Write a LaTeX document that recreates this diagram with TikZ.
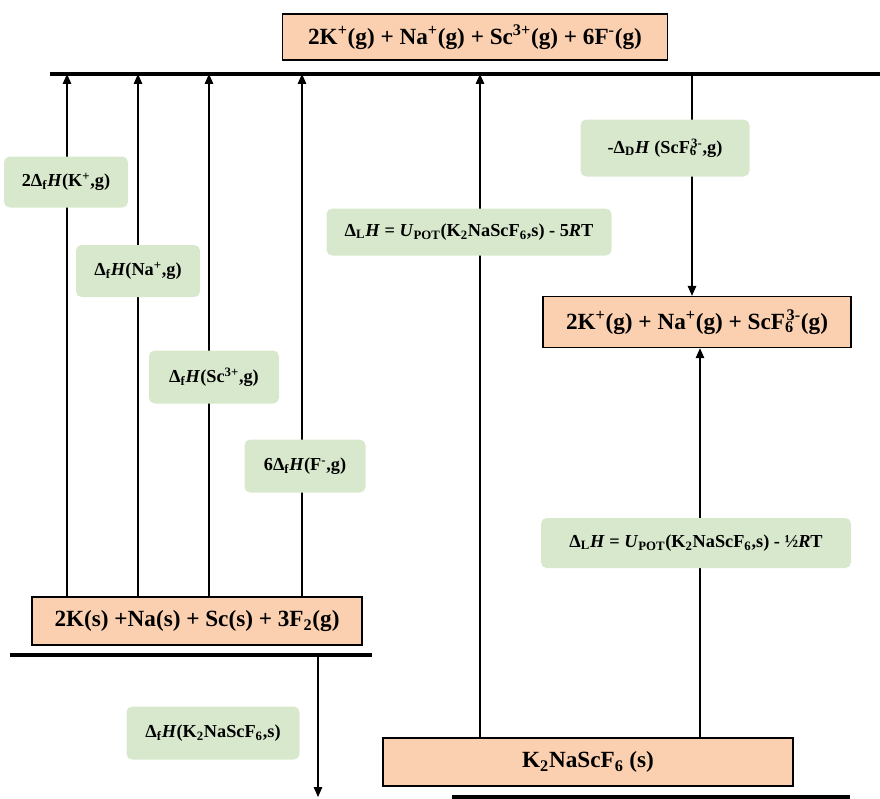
\documentclass[tikz,border=0pt]{standalone}
\usepackage{fontspec}
\setmainfont{Liberation Serif}
\usetikzlibrary{arrows.meta}
\definecolor{boxorange}{RGB}{251,208,176}
\definecolor{labgreen}{RGB}{216,232,204}
\newcommand\pxu{0.025cm}
\newcommand\supsub[2]{\rlap{\textsubscript{#2}}\textsuperscript{\kern0.1em#1}}
\tikzset{
  level/.style={draw=black,line width=1pt,fill=boxorange,inner sep=0pt,font=\fontsize{16.5}{18}\selectfont\bfseries},
  enlabel/.style={fill=labgreen,rounded corners=4pt,inner sep=0pt,font=\fontsize{13}{15}\selectfont\bfseries},
  arr/.style={line width=0.8pt,-{Triangle[width=6pt,length=7pt]}},
  base/.style={line width=2.8pt}
}
\begin{document}
\begin{tikzpicture}[x=0.025cm,y=-0.025cm]
  \useasboundingbox (0,0) rectangle (880,798);
  % energy levels
  \node[level,minimum width=385*\pxu,minimum height=46*\pxu] (gas) at (475,37) {2K\textsuperscript{+}(g) + Na\textsuperscript{+}(g) + Sc\textsuperscript{3+}(g) + 6F\textsuperscript{-}(g)};
  \node[level,minimum width=308*\pxu,minimum height=51*\pxu] (ion) at (697,322) {2K\textsuperscript{+}(g) + Na\textsuperscript{+}(g) + ScF\supsub{3-}{6}(g)};
  \node[level,minimum width=330*\pxu,minimum height=48*\pxu] (elem) at (197,621) {2K(s) +Na(s) + Sc(s) + 3F\textsubscript{2}(g)};
  \node[level,minimum width=410*\pxu,minimum height=48*\pxu] (solid) at (588,762) {K\textsubscript{2}NaScF\textsubscript{6} (s)};
  \coordinate (topL) at (50,74); \coordinate (topR) at (880,74);
  \coordinate (elemL) at (10,655); \coordinate (elemR) at (372,655);
  \coordinate (botL) at (452,797); \coordinate (botR) at (850,797);
  \draw[base] (topL) -- (topR);
  \draw[base] (elemL) -- (elemR);
  \draw[base] (botL) -- (botR);
  % arrows
  \foreach \x in {67,138,209,302} \draw[arr] (\x,0 |- elem.north) -- (\x,0 |- topL);
  \draw[arr] (480,0 |- solid.north) -- (480,0 |- topL);
  \draw[arr] (692,0 |- topL) -- (692,0 |- ion.north);
  \draw[arr] (700,0 |- solid.north) -- (700,0 |- ion.south);
  \draw[arr] (318,0 |- elemL) -- (318,0 |- botL);
  % labels
  \node[enlabel,minimum width=124*\pxu,minimum height=51*\pxu] (lK) at (66,182) {2Δ\textsubscript{f}\textit{H}(K\textsuperscript{+},g)};
  \node[enlabel,minimum width=124*\pxu,minimum height=52*\pxu] (lNa) at (138,271) {Δ\textsubscript{f}\textit{H}(Na\textsuperscript{+},g)};
  \node[enlabel,minimum width=130*\pxu,minimum height=53*\pxu] (lSc) at (214,377) {Δ\textsubscript{f}\textit{H}(Sc\textsuperscript{3+},g)};
  \node[enlabel,minimum width=121*\pxu,minimum height=53*\pxu] (lF) at (305,466) {6Δ\textsubscript{f}\textit{H}(F\textsuperscript{-},g)};
  \node[enlabel,minimum width=285*\pxu,minimum height=47*\pxu] (lL) at (469,232) {Δ\textsubscript{L}\textit{H} = \textit{U}\textsubscript{POT}(K\textsubscript{2}NaScF\textsubscript{6},s) - 5\textit{R}T};
  \node[enlabel,minimum width=169*\pxu,minimum height=57*\pxu] (lD) at (665,148) {-Δ\textsubscript{D}\textit{H} (ScF\supsub{3-}{6},g)};
  \node[enlabel,minimum width=310*\pxu,minimum height=50*\pxu] (lLh) at (696,543) {Δ\textsubscript{L}\textit{H} = \textit{U}\textsubscript{POT}(K\textsubscript{2}NaScF\textsubscript{6},s) - ½\textit{R}T};
  \node[enlabel,minimum width=173*\pxu,minimum height=53*\pxu] (lf) at (213,733) {Δ\textsubscript{f}\textit{H}(K\textsubscript{2}NaScF\textsubscript{6},s)};
\end{tikzpicture}
\end{document}
